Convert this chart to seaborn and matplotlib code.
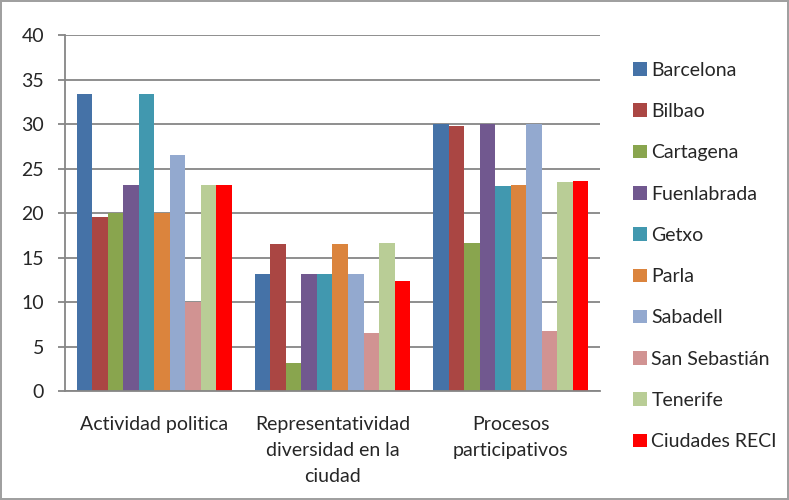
import matplotlib
matplotlib.use("Agg")
import matplotlib.pyplot as plt
import seaborn as sns
import pandas as pd

categories = ["Actividad politica", "Representatividad\ndiversidad en la\nciudad",
              "Procesos\nparticipativos"]
cities = ["Barcelona", "Bilbao", "Cartagena", "Fuenlabrada", "Getxo", "Parla",
          "Sabadell", "San Sebastián", "Tenerife", "Ciudades RECI"]
colors = ["#4572A7", "#AA4643", "#89A54E", "#71588F", "#4198AF", "#DB843D",
          "#93A9CF", "#D19392", "#B9CD96", "#FF0000"]

actividad = [33.4, 19.6, 20.0, 23.1, 33.4, 20.0, 26.5, 10.0, 23.2, 23.2]
representatividad = [13.1, 16.5, 3.1, 13.2, 13.1, 16.5, 13.2, 6.5, 16.6, 12.4]
procesos = [30.0, 29.8, 16.6, 30.0, 23.0, 23.1, 30.0, 6.7, 23.5, 23.6]

rows = []
for cat, vals in zip(categories, [actividad, representatividad, procesos]):
    for city, v in zip(cities, vals):
        rows.append({"categoria": cat, "ciudad": city, "valor": v})
df = pd.DataFrame(rows)

sns.set_style("white")
plt.rcParams["font.family"] = ["Lato", "DejaVu Sans"]

fig = plt.figure(figsize=(7.89, 5), dpi=100)
fig.patch.set_edgecolor("#A0A0A0")
fig.patch.set_linewidth(1.5)
ax = fig.add_axes([65 / 789, 1 - 391 / 500, (600 - 65) / 789, (391 - 35) / 500])

sns.barplot(data=df, x="categoria", y="valor", hue="ciudad", hue_order=cities,
            palette=colors, width=0.87, linewidth=0, saturation=1, ax=ax)

ax.set_ylim(0, 40)
ax.set_yticks(range(0, 41, 5))
ax.set_xlim(-0.5, 2.5)
ax.set_xlabel("")
ax.set_ylabel("")
ax.yaxis.grid(True, color="#868686", linewidth=1.3)
ax.set_axisbelow(True)
for s in ["top", "right"]:
    ax.spines[s].set_visible(False)
for s in ["left", "bottom"]:
    ax.spines[s].set_color("#868686")
    ax.spines[s].set_linewidth(1.3)

# category labels between boundary ticks
ax.set_xticks([0, 1, 2])
ax.set_xticklabels(categories, fontsize=14, color="#262626", linespacing=1.65)
ax.tick_params(axis="x", length=0, pad=18)
ax.set_xticks([-0.5, 0.5, 1.5, 2.5], minor=True)
ax.tick_params(axis="x", which="minor", length=5, color="#868686", width=1.3, direction="out")
ax.tick_params(axis="y", labelsize=14, labelcolor="#262626", length=5,
               color="#868686", width=1.3, direction="out", pad=10, left=True)

ax.legend(loc="center left", bbox_to_anchor=(633 / 789, 1 - 256 / 500),
          bbox_transform=fig.transFigure, frameon=False, fontsize=14,
          handlelength=0.7, handleheight=0.7, handletextpad=0.25,
          labelspacing=1.25, borderpad=0, borderaxespad=0, labelcolor="#262626")

fig.savefig("out.png", dpi=100)
